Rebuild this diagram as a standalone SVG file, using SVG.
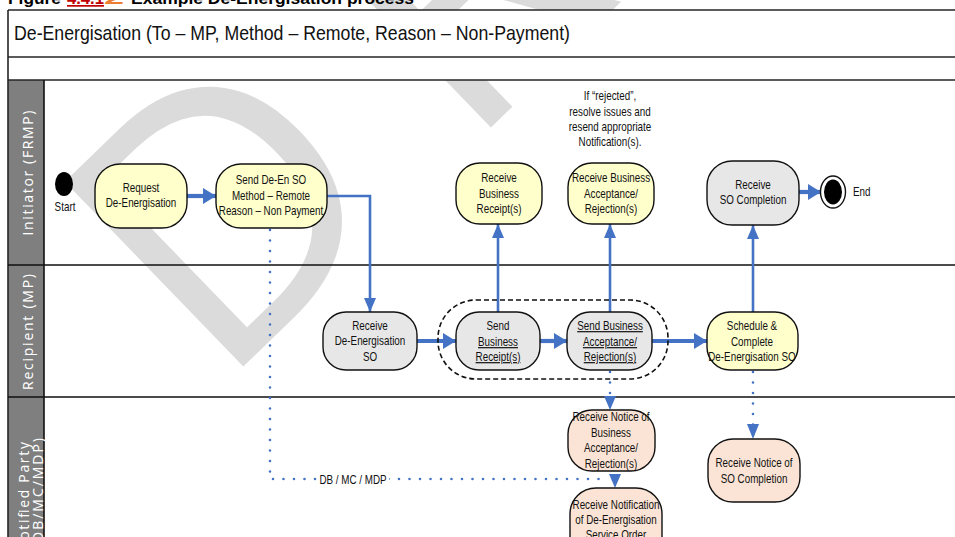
<svg xmlns="http://www.w3.org/2000/svg" width="955" height="537" viewBox="0 0 955 537">
<defs>
<style>
.frame{stroke:#262626;stroke-width:1.6;fill:none}
.lane{stroke:#111;stroke-width:1.6;fill:none}
.hdr{fill:#7f7f7f}
.lbl{font-family:"Open Sans","DejaVu Sans",sans-serif;font-size:14px;fill:#ffffff;text-anchor:middle}
.n rect{stroke:#111;stroke-width:1.4}
.y rect{fill:#ffffcc}
.g rect{fill:#e7e7e7}
.s rect{fill:#fbe4d5}
.t{font-family:"Liberation Sans",Arial,sans-serif;font-size:12px;fill:#111;text-anchor:middle}
.u{text-decoration:underline}
.c{stroke:#4472c4;fill:none;stroke-width:2.6}
.ck{stroke:#4472c4;fill:none;stroke-width:4.2}
.d{stroke:#4472c4;fill:none;stroke-width:2.6;stroke-linecap:round;stroke-dasharray:0 10.5}
.wm{font-family:"Open Sans","DejaVu Sans",sans-serif;font-size:360px;fill:#dbdbdb}
</style>
<marker id="ak" markerUnits="userSpaceOnUse" markerWidth="13" markerHeight="16" refX="13" refY="8" orient="auto"><path d="M0,0 L13,8 L0,16 z" fill="#4472c4"/></marker>
<marker id="at" markerUnits="userSpaceOnUse" markerWidth="14" markerHeight="12" refX="14" refY="6" orient="auto"><path d="M0,0 L14,6 L0,12 z" fill="#4472c4"/></marker>
</defs>
<rect x="0" y="0" width="955" height="537" fill="#ffffff"/>
<g id="watermark"><text class="wm" transform="translate(218,391) rotate(-44)">D<tspan dx="83">RAFT</tspan></text></g>
<g id="caption" font-family="'Liberation Sans',Arial,sans-serif" font-weight="bold" font-size="17">
<text x="8" y="4" textLength="53" lengthAdjust="spacingAndGlyphs">Figure</text>
<text x="67" y="4" fill="#c00000" text-decoration="underline" textLength="37" lengthAdjust="spacingAndGlyphs">4.4.1</text>
<text x="104" y="4" fill="#ed7d31" textLength="20" lengthAdjust="spacingAndGlyphs">2</text>
<text x="131" y="4" textLength="283" lengthAdjust="spacingAndGlyphs">Example De-Energisation process</text>
</g>
<g id="pool">
<rect x="8" y="10" width="948" height="70" fill="#ffffff"/>
<rect class="hdr" x="8" y="80" width="36" height="460"/>
<path class="frame" d="M8,10 H956 M8,10 V540 M8,57 H956 M8,80 H956"/>
<path class="lane" d="M8,265 H956 M8,397 H956 M44,80 V540"/>
<text x="14" y="40" font-family="'Liberation Sans',Arial,sans-serif" font-size="21" fill="#111" textLength="556" lengthAdjust="spacingAndGlyphs">De-Energisation (To – MP, Method – Remote, Reason – Non-Payment)</text>
<text class="lbl" transform="translate(33,173) rotate(-90)" textLength="125" lengthAdjust="spacing">Initiator (FRMP)</text>
<text class="lbl" transform="translate(33,332) rotate(-90)" textLength="116" lengthAdjust="spacing">Recipient (MP)</text>
<text class="lbl" transform="translate(29,497) rotate(-90)" textLength="110" lengthAdjust="spacing">Notified Party</text>
<text class="lbl" transform="translate(43,493) rotate(-90)" textLength="110" lengthAdjust="spacing">(DB/MC/MDP)</text>
</g>
<g id="connectors">
<path class="ck" d="M187,196 H216" marker-end="url(#ak)"/>
<path class="c" d="M327,196 H370 V312" marker-end="url(#at)"/>
<path class="ck" d="M417,341 H456" marker-end="url(#ak)"/>
<path class="ck" d="M540,341 H567" marker-end="url(#ak)"/>
<path class="ck" d="M652,341 H707" marker-end="url(#ak)"/>
<path class="c" d="M498,312 V224" marker-end="url(#at)"/>
<path class="c" d="M610,312 V224" marker-end="url(#at)"/>
<path class="c" d="M753,312 V225" marker-end="url(#at)"/>
<path class="ck" d="M799,192 H821" marker-end="url(#ak)"/>
<path class="d" d="M610,372 V398"/>
<path d="M604,396 L616,396 L610,410 z" fill="#4472c4"/>
<path class="d" d="M753,372 V426"/>
<path d="M747,424 L759,424 L753,439 z" fill="#4472c4"/>
<path class="d" d="M270,230 V479 H606"/>
<path d="M609,474 L621,474 L615,488 z" fill="#4472c4"/>
<rect x="318" y="472" width="71" height="15" fill="#ffffff"/>
<text class="t" transform="translate(353,484) scale(0.82,1)">DB / MC / MDP</text>
</g>
<g id="start"><ellipse cx="64" cy="184" rx="9" ry="12" fill="#000"/><text class="t" transform="translate(65,211) scale(0.82,1)">Start</text></g>
<g id="end"><ellipse cx="833" cy="192" rx="12.5" ry="16" fill="#fff" stroke="#111" stroke-width="1.4"/><ellipse cx="833" cy="192" rx="9" ry="12.5" fill="#000"/><text class="t" transform="translate(853,196) scale(0.82,1)" style="text-anchor:start">End</text></g>
<g id="note">
<text class="t" font-size="11" transform="translate(610,100) scale(0.82,1)">If “rejected”,</text>
<text class="t" font-size="11" transform="translate(610,116) scale(0.82,1)">resolve issues and</text>
<text class="t" font-size="11" transform="translate(610,131) scale(0.82,1)">resend appropriate</text>
<text class="t" font-size="11" transform="translate(610,146) scale(0.82,1)">Notification(s).</text>
</g>
<g id="n-request" class="n y"><rect x="95" y="164" width="92" height="64" rx="25"/>
<text class="t" transform="translate(141,192) scale(0.82,1)">Request</text>
<text class="t" transform="translate(141,207) scale(0.82,1)">De-Energisation</text></g>
<g id="n-send-so" class="n y"><rect x="216" y="164" width="111" height="64" rx="25"/>
<text class="t" transform="translate(271,184) scale(0.82,1)">Send De-En SO</text>
<text class="t" transform="translate(271,200) scale(0.82,1)">Method – Remote</text>
<text class="t" transform="translate(271,215) scale(0.82,1)">Reason – Non Payment</text></g>
<g id="n-recv-receipt" class="n y"><rect x="456" y="163" width="86" height="61" rx="24"/>
<text class="t" transform="translate(499,182) scale(0.82,1)">Receive</text>
<text class="t" transform="translate(499,198) scale(0.82,1)">Business</text>
<text class="t" transform="translate(499,213) scale(0.82,1)">Receipt(s)</text></g>
<g id="n-recv-accept" class="n y"><rect x="568" y="163" width="86" height="61" rx="24"/>
<text class="t" transform="translate(611,182) scale(0.82,1)">Receive Business</text>
<text class="t" transform="translate(611,198) scale(0.82,1)">Acceptance/</text>
<text class="t" transform="translate(611,213) scale(0.82,1)">Rejection(s)</text></g>
<g id="n-recv-completion" class="n g"><rect x="707" y="161" width="92" height="64" rx="25"/>
<text class="t" transform="translate(753,189) scale(0.82,1)">Receive</text>
<text class="t" transform="translate(753,204) scale(0.82,1)">SO Completion</text></g>
<g id="dashed-group"><rect x="438" y="300" width="230" height="79" rx="38" fill="none" stroke="#111" stroke-width="1.6" stroke-dasharray="5 3"/></g>
<g id="n-recv-so" class="n g"><rect x="323" y="312" width="94" height="58" rx="23"/>
<text class="t" transform="translate(370,330) scale(0.82,1)">Receive</text>
<text class="t" transform="translate(370,345) scale(0.82,1)">De-Energisation</text>
<text class="t" transform="translate(370,361) scale(0.82,1)">SO</text></g>
<g id="n-send-receipt" class="n g"><rect x="456" y="312" width="84" height="58" rx="23"/>
<text class="t" transform="translate(498,330) scale(0.82,1)">Send</text>
<text class="t u" transform="translate(498,346) scale(0.82,1)">Business</text>
<text class="t u" transform="translate(498,361) scale(0.82,1)">Receipt(s)</text></g>
<g id="n-send-accept" class="n g"><rect x="567" y="312" width="85" height="58" rx="23"/>
<text class="t u" transform="translate(610,330) scale(0.82,1)">Send Business</text>
<text class="t u" transform="translate(610,346) scale(0.82,1)">Acceptance/</text>
<text class="t u" transform="translate(610,361) scale(0.82,1)">Rejection(s)</text></g>
<g id="n-schedule" class="n y"><rect x="707" y="312" width="91" height="58" rx="23"/>
<text class="t" transform="translate(752,330) scale(0.82,1)">Schedule &amp;</text>
<text class="t" transform="translate(752,346) scale(0.82,1)">Complete</text>
<text class="t" transform="translate(752,361) scale(0.82,1)">De-Energisation SO</text></g>
<g id="n-notice-accept" class="n s"><rect x="568" y="410" width="87" height="61" rx="24"/>
<text class="t" transform="translate(611,421) scale(0.82,1)">Receive Notice of</text>
<text class="t" transform="translate(611,437) scale(0.82,1)">Business</text>
<text class="t" transform="translate(611,452) scale(0.82,1)">Acceptance/</text>
<text class="t" transform="translate(611,468) scale(0.82,1)">Rejection(s)</text></g>
<g id="n-notification" class="n s"><rect x="570" y="488" width="92" height="75" rx="26"/>
<text class="t" transform="translate(616,509) scale(0.82,1)">Receive Notification</text>
<text class="t" transform="translate(616,524) scale(0.82,1)">of De-Energisation</text>
<text class="t" transform="translate(616,539) scale(0.82,1)">Service Order</text></g>
<g id="n-notice-completion" class="n s"><rect x="708" y="439" width="92" height="63" rx="25"/>
<text class="t" transform="translate(754,467) scale(0.82,1)">Receive Notice of</text>
<text class="t" transform="translate(754,483) scale(0.82,1)">SO Completion</text></g>
</svg>
